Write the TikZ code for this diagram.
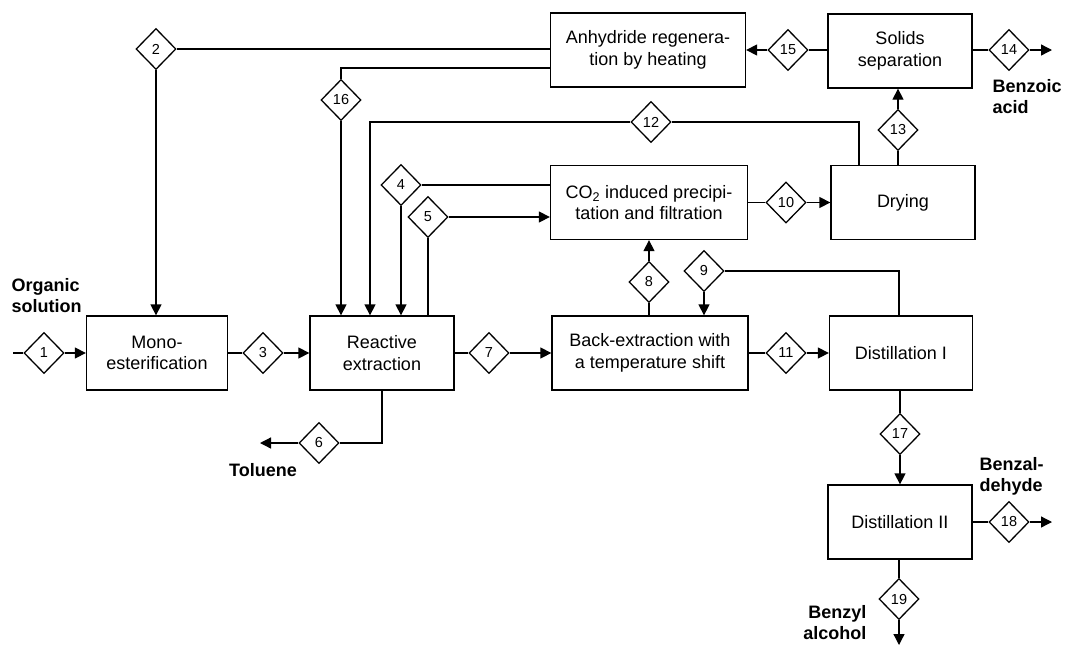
\documentclass[tikz,border=0pt]{standalone}
\usepackage{fontspec}
\setmainfont{Liberation Sans}
\usetikzlibrary{shapes.geometric,arrows.meta}
\begin{document}
\begin{tikzpicture}[x=1pt,y={(0pt,-1pt)},
  line width=1.3pt,
  every path/.style={line join=miter},
  box/.style={draw,rectangle,minimum width=#1,minimum height=74pt,inner sep=0pt,align=center,font=\fontsize{18}{21.5}\selectfont},
  stream/.style={draw,diamond,minimum width=40pt,minimum height=41pt,inner sep=0pt,font=\fontsize{14.5}{16}\selectfont,fill=white},
  lbl/.style={font=\fontsize{18}{21}\selectfont\bfseries,inner sep=0pt},
  arr/.style={-{Triangle[length=11pt,width=11pt]}}
]
\useasboundingbox (0,0) rectangle (1082,646);
% boxes
\node[box=141pt] (mono) at (157,353) {Mono-\\esterification};
\node[box=144pt] (re) at (382,353) {Reactive\\extraction};
\node[box=196pt] (back) at (650,353) {Back-extraction with\\a temperature shift};
\node[box=143pt] (dist1) at (901,353) {Distillation I};
\node[box=144pt] (dist2) at (900,522) {Distillation II};
\node[box=197pt] (co2) at (649,202.5) {CO\textsubscript{2} induced precipi-\\tation and filtration};
\node[box=144pt] (dry) at (903,202.5) {Drying};
\node[box=195pt] (anh) at (648,50) {Anhydride regenera-\\tion by heating};
\node[box=144pt] (sol) at (900,51) {Solids\\separation};
% streams
\node[stream] (d1) at (44,353) {1};
\node[stream] (d2) at (156,49) {2};
\node[stream] (d3) at (263,353) {3};
\node[stream] (d4) at (401,185) {4};
\node[stream] (d5) at (428,217) {5};
\node[stream] (d6) at (319,443) {6};
\node[stream] (d7) at (489,353) {7};
\node[stream] (d8) at (649,282) {8};
\node[stream] (d9) at (704,271) {9};
\node[stream] (d10) at (786,202.5) {10};
\node[stream] (d11) at (786,353) {11};
\node[stream] (d12) at (651,122) {12};
\node[stream] (d13) at (898,130) {13};
\node[stream] (d14) at (1009,50) {14};
\node[stream] (d15) at (788,50) {15};
\node[stream] (d16) at (341,100) {16};
\node[stream] (d17) at (900,434) {17};
\node[stream] (d18) at (1009,522) {18};
\node[stream] (d19) at (899,599) {19};
% free ends
\coordinate (in1) at (13,353);
\coordinate (out6) at (260,443);
\coordinate (out14) at (1052,50);
\coordinate (out18) at (1052,522);
\coordinate (out19) at (899,645);
% labels
\node[lbl,anchor=west,align=left] (lorg) at (11,296) {Organic\\solution};
\node[lbl] (ltol) at (263,470) {Toluene};
\node[lbl,anchor=west,align=left] (lbza) at (992,97) {Benzoic\\acid};
\node[lbl,anchor=west,align=left] (lbzd) at (979,476) {Benzal-\\dehyde};
\node[lbl,anchor=east,align=right] (lbzl) at (867,623) {Benzyl\\alcohol};
% connectors
\draw (in1) -- (d1.west);
\draw[arr] (d1.east) -- (d1.east -| mono.west);
\draw (mono.east) -- (d3.west);
\draw[arr] (d3.east) -- (d3.east -| re.west);
\draw (re.east) -- (d7.west);
\draw[arr] (d7.east) -- (d7.east -| back.west);
\draw (back.east) -- (d11.west);
\draw[arr] (d11.east) -- (d11.east -| dist1.west);
% 2
\draw (anh.west |- d2.east) -- (d2.east);
\draw[arr] (d2.south) -- (d2.south |- mono.north);
% 16
\draw ([yshift=-18pt]anh.west) -| (d16.north);
\draw[arr] (d16.south) -- (d16.south |- re.north);
% 12
\draw ([xshift=-44pt]dry.north) |- (d12.east);
\draw[arr] (d12.west) -| ([xshift=-12pt]re.north);
% 4
\draw (co2.west |- d4.east) -- (d4.east);
\draw[arr] (d4.south) -- (d4.south |- re.north);
% 5
\draw (re.north -| d5.south) -- (d5.south);
\draw[arr] (d5.east) -- (d5.east -| co2.west);
% 6
\draw (re.south) |- (d6.east);
\draw[arr] (d6.west) -- (out6);
% 8
\draw (back.north -| d8.south) -- (d8.south);
\draw[arr] (d8.north) -- (d8.north |- co2.south);
% 9
\draw (dist1.north -| 899,0) |- (d9.east);
\draw[arr] (d9.south) -- (d9.south |- back.north);
% 10
\draw (co2.east) -- (d10.west);
\draw[arr] (d10.east) -- (d10.east -| dry.west);
% 13
\draw (dry.north -| d13.south) -- (d13.south);
\draw[arr] (d13.north) -- (d13.north |- sol.south);
% 15
\draw (sol.west |- d15.east) -- (d15.east);
\draw[arr] (d15.west) -- (d15.west -| anh.east);
% 14
\draw (sol.east |- d14.west) -- (d14.west);
\draw[arr] (d14.east) -- (out14);
% 17
\draw (dist1.south -| d17.north) -- (d17.north);
\draw[arr] (d17.south) -- (d17.south |- dist2.north);
% 18
\draw (dist2.east) -- (d18.west);
\draw[arr] (d18.east) -- (out18);
% 19
\draw (dist2.south -| d19.north) -- (d19.north);
\draw[arr] (d19.south) -- (out19);
\end{tikzpicture}
\end{document}
